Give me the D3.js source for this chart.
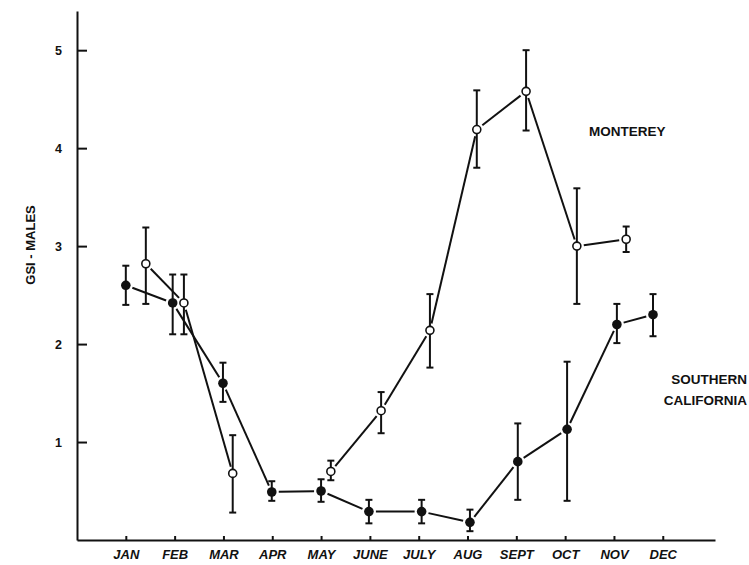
<!DOCTYPE html>
<html>
<head>
<meta charset="utf-8">
<script src="https://cdn.jsdelivr.net/npm/d3@7"></script>
<style>
  body { margin: 0; background: #fff; }
  svg text { font-family: "Liberation Sans", Arial, sans-serif; font-weight: bold; fill: #111; }
</style>
</head>
<body>
<div id="chart"></div>
<script>
// month axis
const months = ["JAN", "FEB", "MAR", "APR", "MAY", "JUNE", "JULY", "AUG", "SEPT", "OCT", "NOV", "DEC"];
const yTicks = [1, 2, 3, 4, 5];

// Southern California (filled circles); x = position in months from JAN
const socalX    = [0, 0.96, 1.99, 2.99, 4.0, 4.98, 6.06, 7.05, 8.03, 9.04, 10.06, 10.8];
const socalMean = [2.60, 2.42, 1.60, 0.49, 0.50, 0.29, 0.29, 0.18, 0.80, 1.13, 2.20, 2.30];
const socalLow  = [2.40, 2.10, 1.41, 0.40, 0.39, 0.17, 0.17, 0.09, 0.41, 0.40, 2.01, 2.08];
const socalHigh = [2.80, 2.71, 1.81, 0.60, 0.62, 0.41, 0.41, 0.31, 1.19, 1.82, 2.41, 2.51];

// Monterey (open circles); no April sample, so the line breaks there
const montX    = [0.41, 1.19, 2.19, null, 4.2, 5.23, 6.23, 7.19, 8.2, 9.24, 10.25];
const montMean = [2.82, 2.42, 0.68, null, 0.70, 1.32, 2.14, 4.19, 4.58, 3.00, 3.07];
const montLow  = [2.41, 2.10, 0.28, null, 0.61, 1.09, 1.76, 3.80, 4.18, 2.41, 2.94];
const montHigh = [3.19, 2.71, 1.07, null, 0.81, 1.51, 2.51, 4.59, 5.00, 3.59, 3.20];

const width = 749, height = 565;

const svg = d3.select("#chart").append("svg")
    .attr("width", width)
    .attr("height", height);

const x = d3.scaleLinear().domain([-1, 12.07]).range([77, 715]);
const y = d3.scaleLinear().domain([0, 5.4]).range([540, 11]);

// axes
const yAxis = svg.append("g")
    .attr("transform", "translate(" + x(-1) + ",0)")
    .call(d3.axisLeft(y).tickValues(yTicks).tickFormat(d3.format("d"))
        .tickSizeInner(-10).tickSizeOuter(0).tickPadding(15));

const xAxis = svg.append("g")
    .attr("transform", "translate(0," + y(0) + ")")
    .call(d3.axisBottom(x).tickValues(d3.range(months.length)).tickFormat(i => months[i])
        .tickSizeInner(-4).tickSizeOuter(0).tickPadding(10));

[yAxis, xAxis].forEach(a => {
    a.select(".domain").attr("stroke", "#111").attr("stroke-width", 2);
    a.selectAll(".tick line").attr("stroke", "#111").attr("stroke-width", 2);
    a.selectAll("text").attr("fill", "#111").style("font-weight", "bold");
});
yAxis.selectAll("text").style("font-size", "12.5px");
xAxis.selectAll("text").style("font-size", "13px").style("font-style", "italic");

svg.append("text")
    .attr("transform", "translate(35,245) rotate(-90)")
    .attr("text-anchor", "middle")
    .style("font-size", "13px")
    .text("GSI - MALES");

function drawSeries(xs, mean, low, high, filled) {
    const all = xs.map((d, i) => d == null ? null :
        ({ x: x(d), y: y(mean[i]), lo: y(low[i]), hi: y(high[i]) }));
    const pts = all.filter(d => d);
    const g = svg.append("g");

    // connecting lines, stopping short of the markers
    const gap = 7;
    const segs = d3.pairs(all).filter(([a, b]) => a && b).map(([a, b]) => {
        const dx = b.x - a.x, dy = b.y - a.y, len = Math.hypot(dx, dy);
        const ux = dx / len, uy = dy / len;
        return [a.x + ux * gap, a.y + uy * gap, b.x - ux * gap, b.y - uy * gap];
    });
    g.selectAll(".seg").data(segs).enter().append("line")
        .attr("x1", d => d[0]).attr("y1", d => d[1])
        .attr("x2", d => d[2]).attr("y2", d => d[3])
        .attr("stroke", "#111").attr("stroke-width", 2);

    // error bars
    const cap = 3.5;
    const eb = g.selectAll(".err").data(pts).enter().append("g");
    eb.append("line")
        .attr("x1", d => d.x).attr("x2", d => d.x)
        .attr("y1", d => d.lo).attr("y2", d => d.hi)
        .attr("stroke", "#111").attr("stroke-width", 2);
    eb.append("line")
        .attr("x1", d => d.x - cap).attr("x2", d => d.x + cap)
        .attr("y1", d => d.hi).attr("y2", d => d.hi)
        .attr("stroke", "#111").attr("stroke-width", 2);
    eb.append("line")
        .attr("x1", d => d.x - cap).attr("x2", d => d.x + cap)
        .attr("y1", d => d.lo).attr("y2", d => d.lo)
        .attr("stroke", "#111").attr("stroke-width", 2);

    // markers
    g.selectAll(".pt").data(pts).enter().append("circle")
        .attr("cx", d => d.x).attr("cy", d => d.y)
        .attr("r", filled ? 4.8 : 4)
        .attr("fill", filled ? "#111" : "#fff")
        .attr("stroke", "#111")
        .attr("stroke-width", filled ? 0 : 1.6);
}

drawSeries(socalX, socalMean, socalLow, socalHigh, true);
drawSeries(montX, montMean, montLow, montHigh, false);

// series labels
svg.append("text").attr("x", 589).attr("y", 136)
    .style("font-size", "13.5px").text("MONTEREY");
svg.append("text").attr("x", 747).attr("y", 384).attr("text-anchor", "end")
    .style("font-size", "13.5px").text("SOUTHERN");
svg.append("text").attr("x", 747).attr("y", 405).attr("text-anchor", "end")
    .style("font-size", "13.5px").text("CALIFORNIA");
</script>
</body>
</html>
